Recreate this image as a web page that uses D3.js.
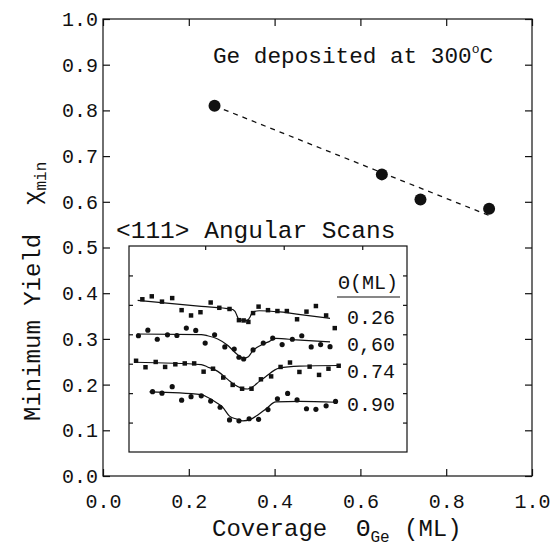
<!DOCTYPE html>
<html>
<head>
<meta charset="utf-8">
<script src="https://cdn.jsdelivr.net/npm/d3@7"></script>
<style>
  body { margin: 0; background: #fff; }
  svg { display: block; }
  text { font-family: 'Liberation Mono', monospace; fill: #111; white-space: pre; }
</style>
</head>
<body>
<script>
// main panel: minimum yield vs Ge coverage
const coverage = [0.26, 0.65, 0.74, 0.90];
const minYield = [0.81, 0.66, 0.605, 0.585];
const fitCoverage = [0.26, 0.90];
const fitYield = [0.81, 0.57];
const xTicks = [0, 0.2, 0.4, 0.6, 0.8, 1.0];
const yTicks = [0, 0.1, 0.2, 0.3, 0.4, 0.5, 0.6, 0.7, 0.8, 0.9, 1.0];

// inset: <111> angular scans, one per coverage
const scanLabels = ["0.26", "0,60", "0.74", "0.90"];
const scanMarkers = ["square", "circle", "square", "circle"];

const angle026 = [-1.80, -1.68, -1.55, -1.42, -1.30, -1.18, -1.06, -0.93, -0.82, -0.69, -0.57, -0.51, -0.45, -0.39, -0.32, -0.20, -0.08, 0.04, 0.17, 0.29, 0.41, 0.54, 0.65];
const yield026 = [0.519, 0.529, 0.511, 0.523, 0.482, 0.464, 0.475, 0.508, 0.490, 0.486, 0.448, 0.447, 0.442, 0.472, 0.494, 0.482, 0.479, 0.479, 0.451, 0.477, 0.496, 0.464, 0.421];
const fitAngle026 = [-1.86, -1.05, -0.67, -0.62, -0.59, -0.57, -0.52, -0.47, -0.43, -0.40, -0.31, -0.05, 0.29, 0.59];
const fitYield026 = [0.515, 0.495, 0.486, 0.478, 0.460, 0.450, 0.447, 0.447, 0.458, 0.475, 0.480, 0.476, 0.464, 0.454];

const angle060 = [-1.85, -1.73, -1.61, -1.48, -1.36, -1.24, -1.12, -1.00, -0.88, -0.75, -0.63, -0.57, -0.51, -0.39, -0.26, -0.14, -0.02, 0.11, 0.23, 0.35, 0.47, 0.59];
const yield060 = [0.395, 0.414, 0.383, 0.398, 0.396, 0.421, 0.413, 0.370, 0.398, 0.357, 0.350, 0.322, 0.316, 0.347, 0.370, 0.387, 0.365, 0.383, 0.395, 0.357, 0.365, 0.358];
const fitAngle060 = [-1.87, -1.05, -0.97, -0.84, -0.71, -0.59, -0.51, -0.45, -0.40, -0.26, -0.18, -0.10, 0.16, 0.59];
const fitYield060 = [0.401, 0.399, 0.395, 0.384, 0.362, 0.331, 0.319, 0.324, 0.342, 0.367, 0.376, 0.386, 0.381, 0.374];

const angle074 = [-1.88, -1.76, -1.63, -1.51, -1.38, -1.26, -1.14, -1.02, -0.90, -0.77, -0.65, -0.53, -0.41, -0.29, -0.16, -0.04, 0.08, 0.20, 0.33, 0.45, 0.57, 0.70];
const yield074 = [0.310, 0.288, 0.306, 0.289, 0.298, 0.301, 0.301, 0.273, 0.283, 0.253, 0.228, 0.215, 0.215, 0.247, 0.257, 0.289, 0.304, 0.272, 0.290, 0.262, 0.283, 0.293];
const fitAngle074 = [-1.90, -1.05, -0.97, -0.84, -0.71, -0.63, -0.54, -0.46, -0.40, -0.31, -0.23, -0.06, 0.20, 0.70];
const fitYield074 = [0.305, 0.297, 0.289, 0.274, 0.246, 0.229, 0.217, 0.214, 0.221, 0.240, 0.256, 0.285, 0.292, 0.294];

const angle090 = [-1.67, -1.55, -1.42, -1.30, -1.18, -1.05, -0.93, -0.81, -0.69, -0.57, -0.44, -0.32, -0.20, -0.08, 0.05, 0.17, 0.29, 0.41, 0.54, 0.66];
const yield090 = [0.205, 0.200, 0.222, 0.176, 0.188, 0.191, 0.173, 0.152, 0.109, 0.106, 0.113, 0.111, 0.144, 0.181, 0.199, 0.177, 0.147, 0.145, 0.157, 0.172];
const fitAngle090 = [-1.71, -1.05, -0.97, -0.84, -0.78, -0.69, -0.60, -0.52, -0.43, -0.33, -0.22, -0.10, 0.20, 0.66];
const fitYield090 = [0.204, 0.195, 0.186, 0.165, 0.153, 0.122, 0.112, 0.106, 0.110, 0.126, 0.148, 0.170, 0.172, 0.169];

const insetXTicks = [-1, 0, 1];
const insetYTicks = [0.1, 0.2, 0.3, 0.4, 0.5, 0.6];

const scans = [
    { pts: d3.zip(angle026, yield026), fit: d3.zip(fitAngle026, fitYield026) },
    { pts: d3.zip(angle060, yield060), fit: d3.zip(fitAngle060, fitYield060) },
    { pts: d3.zip(angle074, yield074), fit: d3.zip(fitAngle074, fitYield074) },
    { pts: d3.zip(angle090, yield090), fit: d3.zip(fitAngle090, fitYield090) },
].map((s, i) => ({ ...s, label: scanLabels[i], marker: scanMarkers[i] }));

const W = 551, H = 546;
const ink = '#111';

const svg = d3.select('body').append('svg')
    .attr('width', W)
    .attr('height', H);

svg.append('rect').attr('width', W).attr('height', H).attr('fill', '#fff');

// //////////////////////////////////////////////////////////////////////////
// Main frame
const x = d3.scaleLinear().domain([0, 1]).range([103, 532]);
const y = d3.scaleLinear().domain([0, 1]).range([476, 19]);

function styleAxis(g, size) {
    g.attr('font-family', null).attr('font-size', size);
    g.select('.domain').remove();
    g.selectAll('.tick line').attr('stroke', ink).attr('stroke-width', 1.2);
    g.selectAll('.tick text').attr('fill', ink);
}

svg.append('g')
    .attr('transform', `translate(0,${y(0)})`)
    .call(d3.axisBottom(x).tickValues(xTicks).tickSize(-7).tickPadding(18).tickFormat(d3.format('.1f')))
    .call(styleAxis, 20);

svg.append('g')
    .attr('transform', `translate(${x(0)},0)`)
    .call(d3.axisLeft(y).tickValues(yTicks).tickSize(-7).tickPadding(5).tickFormat(d3.format('.1f')))
    .call(styleAxis, 20);

svg.append('g')
    .attr('transform', `translate(0,${y(1)})`)
    .call(d3.axisTop(x).tickValues(xTicks).tickSize(-7).tickFormat(''))
    .call(styleAxis, 20);

svg.append('g')
    .attr('transform', `translate(${x(1)},0)`)
    .call(d3.axisRight(y).tickValues(yTicks).tickSize(-7).tickFormat(''))
    .call(styleAxis, 20);

svg.append('rect')
    .attr('x', x(0)).attr('y', y(1))
    .attr('width', x(1) - x(0)).attr('height', y(0) - y(1))
    .attr('fill', 'none').attr('stroke', ink).attr('stroke-width', 1.2);

// dashed trend line + measured minimum yields
svg.append('path')
    .datum(d3.zip(fitCoverage, fitYield))
    .attr('d', d3.line().x(d => x(d[0])).y(d => y(d[1])))
    .attr('fill', 'none')
    .attr('stroke', ink)
    .attr('stroke-width', 1.3)
    .attr('stroke-dasharray', '5,5');

svg.append('g').selectAll('circle')
    .data(d3.zip(coverage, minYield))
    .join('circle')
    .attr('cx', d => x(d[0]))
    .attr('cy', d => y(d[1]))
    .attr('r', 6)
    .attr('fill', ink);

// title
const title = svg.append('text').attr('x', 213).attr('y', 63).attr('font-size', 22.7);
title.append('tspan').text('Ge deposited at 300');
title.append('tspan').attr('font-size', 13).attr('dy', -10).text('o');
title.append('tspan').attr('dy', 10).text('C');

// axis titles
const xLabel = svg.append('text').attr('x', 212).attr('y', 536).attr('font-size', 24);
xLabel.append('tspan').text('Coverage  \u0398');
xLabel.append('tspan').attr('font-size', 16).attr('dy', 6).text('Ge');
xLabel.append('tspan').attr('dy', -6).text(' (ML)');

const yLabel = svg.append('text')
    .attr('transform', 'translate(40,421) rotate(-90)')
    .attr('font-size', 24);
yLabel.append('tspan').text('Minimum Yield  \u03c7');
yLabel.append('tspan').attr('font-size', 16).attr('dy', 6).text('min');

// //////////////////////////////////////////////////////////////////////////
// Inset: angular scans
const ix = d3.scaleLinear().domain([-1.97, 1.57]).range([129, 407]);
const iy = d3.scaleLinear().domain([0, 0.7]).range([452, 246]);

svg.append('text')
    .attr('x', 116).attr('y', 238)
    .attr('font-size', 24.5)
    .text('<111> Angular Scans');

svg.append('rect')
    .attr('x', ix(-1.97)).attr('y', iy(0.7))
    .attr('width', ix(1.57) - ix(-1.97)).attr('height', iy(0) - iy(0.7))
    .attr('fill', '#fff').attr('stroke', ink).attr('stroke-width', 1.2);

svg.append('g')
    .attr('transform', `translate(0,${iy(0.7)})`)
    .call(d3.axisTop(ix).tickValues(insetXTicks).tickSize(-4).tickFormat(''))
    .call(styleAxis, 10);

svg.append('g')
    .attr('transform', `translate(${ix(-1.97)},0)`)
    .call(d3.axisLeft(iy).tickValues(insetYTicks).tickSize(-4).tickFormat(''))
    .call(styleAxis, 10);

svg.append('g')
    .attr('transform', `translate(${ix(1.57)},0)`)
    .call(d3.axisRight(iy).tickValues(insetYTicks).tickSize(-4).tickFormat(''))
    .call(styleAxis, 10);

const fitLine = d3.line()
    .x(d => ix(d[0]))
    .y(d => iy(d[1]))
    .curve(d3.curveMonotoneX);

const symbols = {
    square: d3.symbol().type(d3.symbolSquare).size(20),
    circle: d3.symbol().type(d3.symbolCircle).size(21),
};

const scanG = svg.append('g').selectAll('g')
    .data(scans)
    .join('g');

scanG.append('path')
    .attr('d', d => fitLine(d.fit))
    .attr('fill', 'none')
    .attr('stroke', ink)
    .attr('stroke-width', 1.2);

scanG.each(function (s) {
    d3.select(this).selectAll('path.pt')
        .data(s.pts)
        .join('path')
        .attr('class', 'pt')
        .attr('transform', d => `translate(${ix(d[0])},${iy(d[1])})`)
        .attr('d', symbols[s.marker]())
        .attr('fill', ink);
});

// coverage labels on the right of the scans
const labelBaselines = [324, 351, 378, 411];
svg.append('text')
    .attr('x', 368).attr('y', 289)
    .attr('text-anchor', 'middle')
    .attr('font-size', 20)
    .text('\u0398(ML)');
svg.append('line')
    .attr('x1', 337).attr('x2', 400)
    .attr('y1', 297).attr('y2', 297)
    .attr('stroke', ink).attr('stroke-width', 1.2);

svg.append('g').selectAll('text')
    .data(scans)
    .join('text')
    .attr('x', 371)
    .attr('y', (d, i) => labelBaselines[i])
    .attr('text-anchor', 'middle')
    .attr('font-size', 20)
    .text(d => d.label);
</script>
</body>
</html>
